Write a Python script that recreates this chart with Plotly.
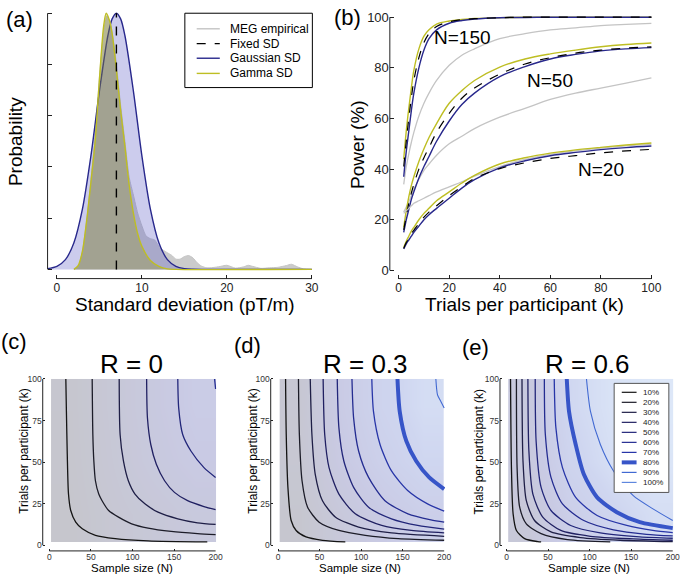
import plotly.graph_objects as go

W, H = 688, 575
FONT = "Liberation Sans, Arial, Helvetica, sans-serif"

# ---------------- Panel (a): distribution of SD ----------------
emp_x = [2, 2.5, 3, 3.5, 4, 4.5, 5, 5.5, 5.9, 6.3, 6.7, 7, 7.5, 8, 8.5, 9, 9.5, 10, 10.5, 11,
         11.5, 12, 12.5, 13, 13.5, 14, 14.5, 15, 15.5, 16, 16.5, 17, 17.5, 18, 19, 20, 21, 22,
         22.5, 23, 24, 25, 26, 27, 27.6, 28.3, 29, 30]
emp_density = [0, 0.01, 0.07, 0.19, 0.35, 0.52, 0.75, 0.93, 0.99, 0.96, 0.88, 0.8, 0.64, 0.5,
               0.36, 0.29, 0.22, 0.17, 0.13, 0.12, 0.115, 0.09, 0.075, 0.065, 0.055, 0.04, 0.04,
               0.05, 0.054, 0.045, 0.026, 0.013, 0.007, 0.006, 0.01, 0.016, 0.005, 0.01, 0.016,
               0.012, 0.004, 0.006, 0.008, 0.015, 0.02, 0.01, 0.002, 0]

gauss_x = [-1.1, 0, 1, 2, 3, 4, 5, 6, 6.5, 7, 7.5, 8, 9, 10, 11, 12, 13, 14, 15, 16, 17, 30]
gauss_density = [0.003, 0.012, 0.038, 0.104, 0.235, 0.443, 0.696, 0.913, 0.978, 1.0, 0.978,
                 0.913, 0.696, 0.443, 0.235, 0.104, 0.038, 0.012, 0.003, 0.0007, 0, 0]

gamma_x = [2, 2.5, 3, 3.5, 4, 4.5, 5, 5.5, 5.8, 6.2, 6.5, 7, 7.5, 8, 8.5, 9, 9.5, 10, 11, 12,
           13, 14, 30]
gamma_density = [0, 0.015, 0.07, 0.19, 0.34, 0.5, 0.74, 0.95, 1.0, 0.97, 0.92, 0.78, 0.62,
                 0.48, 0.33, 0.22, 0.14, 0.09, 0.035, 0.012, 0.002, 0, 0]

fixed_sd = 7.0
prob_ticks = [0, 0.2, 0.4, 0.6, 0.8, 1.0]
sd_ticks = [0, 10, 20, 30]

# ---------------- Panel (b): power vs trials ----------------
trials_k = [2, 3, 4, 5, 6, 8, 10, 12, 15, 20, 25, 30, 40, 50, 60, 70, 80, 90, 100]

n150_gamma = [44, 55, 64, 72, 79, 87.5, 92.5, 95, 97.3, 98.5, 99.1, 99.5, 99.8, 100, 100, 100, 100, 100, 100]
n150_fixed = [41, 51, 60, 68, 75, 84, 90, 93.5, 96.3, 98.2, 99, 99.4, 99.8, 100, 100, 100, 100, 100, 100]
n150_gauss = [37, 47, 55, 63, 70, 80, 87, 91.5, 95, 97.6, 98.7, 99.3, 99.8, 99.9, 100, 100, 100, 100, 100]
n150_meg = [34, 41, 46, 50.5, 54.5, 61, 66, 70, 75, 81, 85, 87.5, 91.5, 93.5, 95, 95.8, 96.7, 97.2, 97.6]

n50_gamma = [17, 23.5, 29, 33.5, 37, 43, 48, 52.5, 58, 66, 71, 75, 80.3, 83.5, 85.5, 87, 88.3, 89.2, 89.8]
n50_fixed = [16, 21.5, 26.5, 30.5, 34, 40, 44.5, 48.5, 54.5, 62, 68, 72, 77.5, 81.5, 84, 85.8, 87, 87.8, 88.3]
n50_gauss = [15, 20, 24, 28, 31, 36.5, 41, 45, 51, 59, 65.5, 70, 76.5, 80.5, 83.5, 85.3, 86.7, 87.5, 88]
n50_meg = [23, 25, 27, 29.5, 32, 36, 39.5, 42, 45.5, 50, 53, 56, 60.5, 64, 67.5, 70, 72, 74, 76]

n20_gamma = [9, 11.5, 13.5, 15.5, 17, 20, 22.5, 24.5, 27.5, 31, 34.5, 37.5, 42, 44.5, 46.3, 47.6, 48.6, 49.5, 50.3]
n20_fixed = [8.7, 11, 12.5, 14.5, 15.8, 18.5, 21, 23, 25.5, 29.5, 33, 36.3, 40.2, 42.5, 44.2, 45.3, 46.4, 47.2, 47.8]
n20_gauss = [8.5, 10.5, 12, 13.5, 15, 17.5, 20, 22, 24.5, 28.5, 32.5, 35.8, 40.5, 43.3, 45.3, 46.6, 47.7, 48.5, 49.1]
n20_meg = [22.5, 23.5, 24.5, 25.5, 26.5, 27.5, 28.5, 29.5, 31, 33, 35, 37.2, 41, 43.8, 45.8, 47.2, 48.3, 49.2, 49.8]

n_labels = ["N=150", "N=50", "N=20"]
n_label_k = [25.2, 60, 80]
n_label_power = [92, 75, 40]
power_ticks = [0, 20, 40, 60, 80, 100]
k_ticks = [0, 20, 40, 60, 80, 100]

# ---------------- Panels (c)-(e): power contours ----------------
levels = ["10%", "20%", "30%", "40%", "50%", "60%", "70%", "80%", "90%", "100%"]
r_titles = ["R = 0", "R = 0.3", "R = 0.6"]
n_ticks = [0, 50, 100, 150, 200]
kk_ticks = [0, 25, 50, 75, 100]

# coarse power surface (background shading), cell edges and cell values
grid_N_edges = [2, 50, 100, 150, 200]
grid_k_edges = [2, 34, 67, 100]
power_c = [[0.10, 0.21, 0.29, 0.38], [0.12, 0.25, 0.39, 0.49], [0.13, 0.27, 0.42, 0.55]]
power_d = [[0.14, 0.34, 0.50, 0.62], [0.19, 0.47, 0.66, 0.80], [0.20, 0.52, 0.74, 0.87]]
power_e = [[0.30, 0.61, 0.76, 0.88], [0.39, 0.74, 0.90, 0.96], [0.40, 0.81, 0.93, 0.98]]

# contour lines (N, k)
c10 = ([19.8, 20.5, 21.5, 23, 25.7, 31.7, 39.6, 55.4, 79.2, 118.8, 190],
       [100, 80, 55, 30.8, 20.9, 13.9, 9.9, 6, 4, 2.6, 2])
c20 = ([51.5, 52.3, 53.5, 55.4, 59.4, 63.4, 71.3, 83.2, 99, 118.8, 146.5, 178.2, 200],
       [100, 66.6, 50.7, 38.8, 30.8, 26.8, 20.9, 16.9, 12.9, 10.3, 8.3, 7, 6.4])
c30 = ([84, 85.1, 89.1, 95, 103, 114.9, 130.7, 154.5, 178.2, 200],
       [100, 66.6, 50.7, 38.8, 30.8, 24.9, 19.9, 15.9, 13.5, 12.5])
c40 = ([117, 118, 122, 128.7, 138.6, 150.5, 166.3, 186, 200],
       [100, 76.5, 60.6, 48.7, 38.8, 31.8, 26.8, 23.3, 21.5])
c50 = ([154.5, 155.6, 160.4, 170.3, 186, 200], [100, 82.5, 66.6, 56.7, 46.7, 40.8])
c60 = ([198.8, 200], [100, 94])

d10 = ([9.1, 9.9, 11.9, 15.8, 21.8, 33.7, 53.5, 81], [100, 66.6, 34.8, 14.9, 8.9, 5, 3, 2])
d20 = ([24.6, 25.7, 28.9, 35.6, 49.5, 73.3, 105, 144.6, 200], [100, 66.6, 38.8, 22.9, 13.9, 8.9, 6, 4, 3])
d30 = ([38.8, 40.8, 44.8, 53.5, 69.3, 97, 136.6, 200], [100, 66.6, 42.7, 26.8, 16.9, 10.9, 7.4, 5.4])
d40 = ([54.3, 56.2, 61.4, 73.3, 93, 124.8, 160.4, 200], [100, 66.6, 46.7, 30.8, 18.9, 11.9, 8.9, 7.4])
d50 = ([71.3, 73.3, 79.2, 91, 109, 136.6, 168, 200], [100, 70.6, 50.7, 34.8, 22.9, 15.9, 11.9, 9.7])
d60 = ([89, 91, 97, 109, 128.7, 156.4, 184, 200], [100, 76.5, 56.7, 40.8, 26.8, 18.9, 15.3, 13.9])
d70 = ([112.9, 114.9, 122.8, 136.6, 156.4, 180, 200], [100, 80.5, 60.6, 44.7, 32.8, 24.9, 20.5])
d80 = ([143.8, 146.5, 154.5, 166.3, 182, 200], [100, 80.5, 62.6, 50.7, 40.8, 33.8])
d90 = ([190, 192, 196, 200], [100, 90.5, 86.5, 82.5])

e10 = ([4.8, 5.9, 7.9, 11.9, 21.8, 37.6, 41.6], [100, 46.7, 18.9, 8.9, 4, 2.2, 2])
e20 = ([11.9, 12.7, 15.8, 23.8, 41.6, 73.3, 124.8], [100, 46.7, 22.9, 12.9, 7, 3.4, 2])
e30 = ([18.6, 19.8, 23.8, 33.7, 53.5, 89, 136.6, 200], [100, 50.7, 26.8, 14.9, 8, 4.6, 3, 2.2])
e40 = ([25.7, 26.9, 31.7, 43.6, 65.3, 101, 152.5, 200], [100, 56.7, 30.8, 16.9, 8.9, 5.4, 3.8, 3])
e50 = ([34.5, 35.6, 41.6, 53.5, 77.2, 112.9, 160.4, 200], [100, 62.6, 34.8, 20.9, 11.9, 7.4, 5, 4.2])
e60 = ([45.5, 46.7, 53.5, 67.3, 93, 128.7, 168.3, 200], [100, 66.6, 40.8, 24.9, 14.9, 9.3, 6.6, 5.6])
e70 = ([57.4, 59.4, 67.3, 83.2, 109, 144.6, 176, 200], [100, 70.6, 46.7, 28.8, 17.9, 11.9, 8.9, 7.6])
e80 = ([72.5, 75.2, 83.2, 93, 109, 132.7, 160.4, 200], [100, 80.5, 60.6, 42.7, 28.8, 19.9, 13.9, 10.3])
e90 = ([96.2, 101, 112.9, 128.7, 152.5, 176.2, 200], [100, 80.5, 60.6, 44.7, 29.8, 21.9, 14.9])

# ---------------- styles ----------------
C_GRAY = "rgb(196,196,196)"
C_BLUE = "rgb(40,40,140)"
C_YEL = "rgb(190,190,35)"
level_colors = ["rgb(20,20,20)", "rgb(28,28,40)", "rgb(30,30,70)", "rgb(32,32,98)",
                "rgb(34,38,122)", "rgb(36,44,145)", "rgb(40,54,168)", "rgb(55,85,200)",
                "rgb(65,105,210)", "rgb(95,135,222)"]
level_widths = [1.3, 1.3, 1.3, 1.3, 1.3, 1.3, 1.3, 4, 1.1, 1.1]
bg_scale = [[0, "rgb(197,197,199)"], [0.5, "rgb(201,202,228)"], [0.8, "rgb(207,214,240)"],
            [1, "rgb(222,233,249)"]]


def px_x(p):
    return p / W


def px_y(p):
    return 1 - p / H


fig = go.Figure()

# ---- (a)
fig.add_trace(go.Scatter(x=emp_x, y=emp_density, mode="lines", fill="tozeroy",
                         fillcolor="rgba(130,130,130,0.42)", line=dict(color=C_GRAY, width=1, shape="spline", smoothing=0.6),
                         name="MEG empirical", xaxis="x", yaxis="y"))
fig.add_trace(go.Scatter(x=gauss_x, y=gauss_density, mode="lines", fill="tozeroy",
                         fillcolor="rgba(100,100,200,0.33)", line=dict(color=C_BLUE, width=1.4, shape="spline", smoothing=0.8),
                         name="Gaussian SD", xaxis="x", yaxis="y"))
fig.add_trace(go.Scatter(x=gamma_x, y=gamma_density, mode="lines", fill="tozeroy",
                         fillcolor="rgba(150,150,40,0.35)", line=dict(color=C_YEL, width=1.4, shape="spline", smoothing=0.8),
                         name="Gamma SD", xaxis="x", yaxis="y"))
fig.add_trace(go.Scatter(x=[fixed_sd, fixed_sd], y=[0, 1], mode="lines",
                         line=dict(color="black", width=1.4, dash="dash"),
                         name="Fixed SD", xaxis="x", yaxis="y"))

# ---- (b)
for meg, fixed, gauss, gam in [(n150_meg, n150_fixed, n150_gauss, n150_gamma),
                               (n50_meg, n50_fixed, n50_gauss, n50_gamma),
                               (n20_meg, n20_fixed, n20_gauss, n20_gamma)]:
    fig.add_trace(go.Scatter(x=trials_k, y=meg, mode="lines", line=dict(color=C_GRAY, width=1.3, shape="spline"),
                             xaxis="x2", yaxis="y2", name="MEG empirical"))
    fig.add_trace(go.Scatter(x=trials_k, y=gam, mode="lines", line=dict(color=C_YEL, width=1.4, shape="spline"),
                             xaxis="x2", yaxis="y2", name="Gamma SD"))
    fig.add_trace(go.Scatter(x=trials_k, y=gauss, mode="lines", line=dict(color=C_BLUE, width=1.4, shape="spline"),
                             xaxis="x2", yaxis="y2", name="Gaussian SD"))
    fig.add_trace(go.Scatter(x=trials_k, y=fixed, mode="lines", line=dict(color="black", width=1.2, dash="dash", shape="spline"),
                             xaxis="x2", yaxis="y2", name="Fixed SD"))

for lab, kx, py in zip(n_labels, n_label_k, n_label_power):
    fig.add_annotation(x=kx, y=py, xref="x2", yref="y2", text=lab, showarrow=False,
                       font=dict(size=19, color="black", family=FONT))

# ---- (c)-(e)
panel_lines = [[c10, c20, c30, c40, c50, c60],
               [d10, d20, d30, d40, d50, d60, d70, d80, d90],
               [e10, e20, e30, e40, e50, e60, e70, e80, e90]]
panel_power = [power_c, power_d, power_e]
for i, (lines, pw) in enumerate(zip(panel_lines, panel_power)):
    xa, ya = "x%d" % (i + 3), "y%d" % (i + 3)
    fig.add_trace(go.Heatmap(x=grid_N_edges, y=grid_k_edges, z=pw, zmin=0, zmax=1, zsmooth="best",
                             colorscale=bg_scale, showscale=False, hoverinfo="skip",
                             xaxis=xa, yaxis=ya))
    for j, (nn, kk) in enumerate(lines):
        fig.add_trace(go.Scatter(x=nn, y=kk, mode="lines", name=levels[j],
                                 line=dict(color=level_colors[j], width=level_widths[j],
                                           shape="spline", smoothing=0.7),
                                 xaxis=xa, yaxis=ya))

# ---------------- axes ----------------
axis_common = dict(showgrid=False, zeroline=False, showline=False, ticks="inside",
                   tickcolor="#222", tickwidth=1, fixedrange=True,
                   tickfont=dict(family=FONT, color="#222"))

# pixel boxes: (left, right, top, bottom), ranges
boxes = {
    1: ((48.2, 317.7, 5.7, 276.0), [-1.1, 30.2], [-0.036, 1.01]),
    2: ((395.0, 661.3, 9.75, 276.0), [-3.5, 100.5], [-3.25, 101]),
    3: ((43.3, 219.3, 375.6, 550.7), [-8, 201], [-3.4, 101]),
    4: ((274.3, 450.9, 375.6, 550.7), [-8.8, 201], [-3.4, 101]),
    5: ((506.6, 682.5, 375.6, 550.7), [-7.9, 201], [-3.4, 101]),
}
layout_axes = {}
for n, ((l, r, t, b), xr, yr) in boxes.items():
    sx = "" if n == 1 else str(n)
    xax = dict(axis_common, domain=[px_x(l), px_x(r)], range=xr, anchor="y" + sx)
    yax = dict(axis_common, domain=[px_y(b), px_y(t)], range=yr, anchor="x" + sx)
    if n == 1:
        xax.update(tickvals=sd_ticks, ticklen=4, tickfont=dict(family=FONT, size=12, color="#222"))
        yax.update(tickvals=prob_ticks, ticklen=4, showticklabels=False)
    elif n == 2:
        xax.update(tickvals=k_ticks, ticklen=4, tickfont=dict(family=FONT, size=12, color="#222"))
        yax.update(tickvals=power_ticks, ticklen=4, tickfont=dict(family=FONT, size=13, color="#222"))
    else:
        xax.update(tickvals=n_ticks, ticklen=2, tickfont=dict(family=FONT, size=8.5, color="#333"))
        yax.update(tickvals=kk_ticks, ticklen=2, tickfont=dict(family=FONT, size=8.5, color="#333"))
    layout_axes["xaxis" + sx] = xax
    layout_axes["yaxis" + sx] = yax

fig.update_layout(width=W, height=H, margin=dict(l=0, r=0, t=0, b=0),
                  paper_bgcolor="white", plot_bgcolor="rgba(0,0,0,0)",
                  showlegend=False, font=dict(family=FONT, color="black"), **layout_axes)

# offset (MATLAB-style) axis lines
shapes = []
axis_extents = {1: ([0, 30], [0, 1]), 2: ([0, 100], [0, 100]), 3: ([0, 200], [0, 100]),
                4: ([0, 200], [0, 100]), 5: ([0, 200], [0, 100])}
for n, (xe, ye) in axis_extents.items():
    sx = "" if n == 1 else str(n)
    shapes.append(dict(type="line", xref="x" + sx, yref="y" + sx + " domain", x0=xe[0], x1=xe[1],
                       y0=0, y1=0, line=dict(color="#222", width=1)))
    shapes.append(dict(type="line", xref="x" + sx + " domain", yref="y" + sx, x0=0, x1=0,
                       y0=ye[0], y1=ye[1], line=dict(color="#222", width=1)))

# legend (a)
shapes.append(dict(type="rect", xref="paper", yref="paper", x0=px_x(187.3), x1=px_x(316.5),
                   y0=px_y(83.3), y1=px_y(8.3), line=dict(color="black", width=1), fillcolor="white"))
leg_a = [("MEG empirical", C_GRAY, "solid"), ("Fixed SD", "black", "dash"),
         ("Gaussian SD", C_BLUE, "solid"), ("Gamma SD", C_YEL, "solid")]
leg_a_y = [24, 39, 53.7, 69]
for (txt, col, dash), yy in zip(leg_a, leg_a_y):
    shapes.append(dict(type="line", xref="paper", yref="paper", x0=px_x(199.3), x1=px_x(222.7),
                       y0=px_y(yy), y1=px_y(yy), line=dict(color=col, width=1.4, dash=dash)))
    fig.add_annotation(x=px_x(231.5), y=px_y(yy), xref="paper", yref="paper", text=txt,
                       showarrow=False, xanchor="left", yanchor="middle",
                       font=dict(size=12, family=FONT, color="black"))

# legend (e)
shapes.append(dict(type="rect", xref="paper", yref="paper", x0=px_x(622.3), x1=px_x(677.7),
                   y0=px_y(491.7), y1=px_y(381.7), line=dict(color="#555", width=1), fillcolor="white"))
for j, lev in enumerate(levels):
    yy = 390.7 + j * 10.1
    shapes.append(dict(type="line", xref="paper", yref="paper", x0=px_x(630), x1=px_x(645),
                       y0=px_y(yy), y1=px_y(yy),
                       line=dict(color=level_colors[j], width=level_widths[j] if j == 7 else 1.2)))
    fig.add_annotation(x=px_x(649), y=px_y(yy), xref="paper", yref="paper", text=lev,
                       showarrow=False, xanchor="left", yanchor="middle",
                       font=dict(size=8, family=FONT, color="#222"))

fig.update_layout(shapes=shapes)


def label(txt, x, y, size, angle=0, color="black"):
    fig.add_annotation(x=px_x(x), y=px_y(y), xref="paper", yref="paper", text=txt, showarrow=False,
                       xanchor="center", yanchor="middle", textangle=angle,
                       font=dict(size=size, family=FONT, color=color))


# panel letters
label("(a)", 20, 15, 22)
label("(b)", 352, 13, 22)
label("(c)", 14, 339, 22)
label("(d)", 251, 343, 22)
label("(e)", 482, 346, 22)

# axis titles
label("Standard deviation (pT/m)", 187, 302.5, 19)
label("Probability", 16.5, 138, 19, angle=-90)
label("Trials per participant (k)", 531, 302.5, 19)
label("Power (%)", 363, 141, 19, angle=-90)
for cx, yx in [(133.3, 24), (365, 256), (596.7, 485.8)]:
    label("Sample size (N)", cx, 568.3, 11.5)
    label("Trials per participant (k)", yx, 450, 12, angle=-90)

for title, cx in zip(r_titles, [133, 370, 595]):
    label(title, cx, 362.5, 26)

fig.write_html("out.html", config={"displayModeBar": False, "staticPlot": True},
               post_script="document.body.style.margin='0';document.body.style.padding='0';"
                           "document.body.style.overflow='hidden';")
